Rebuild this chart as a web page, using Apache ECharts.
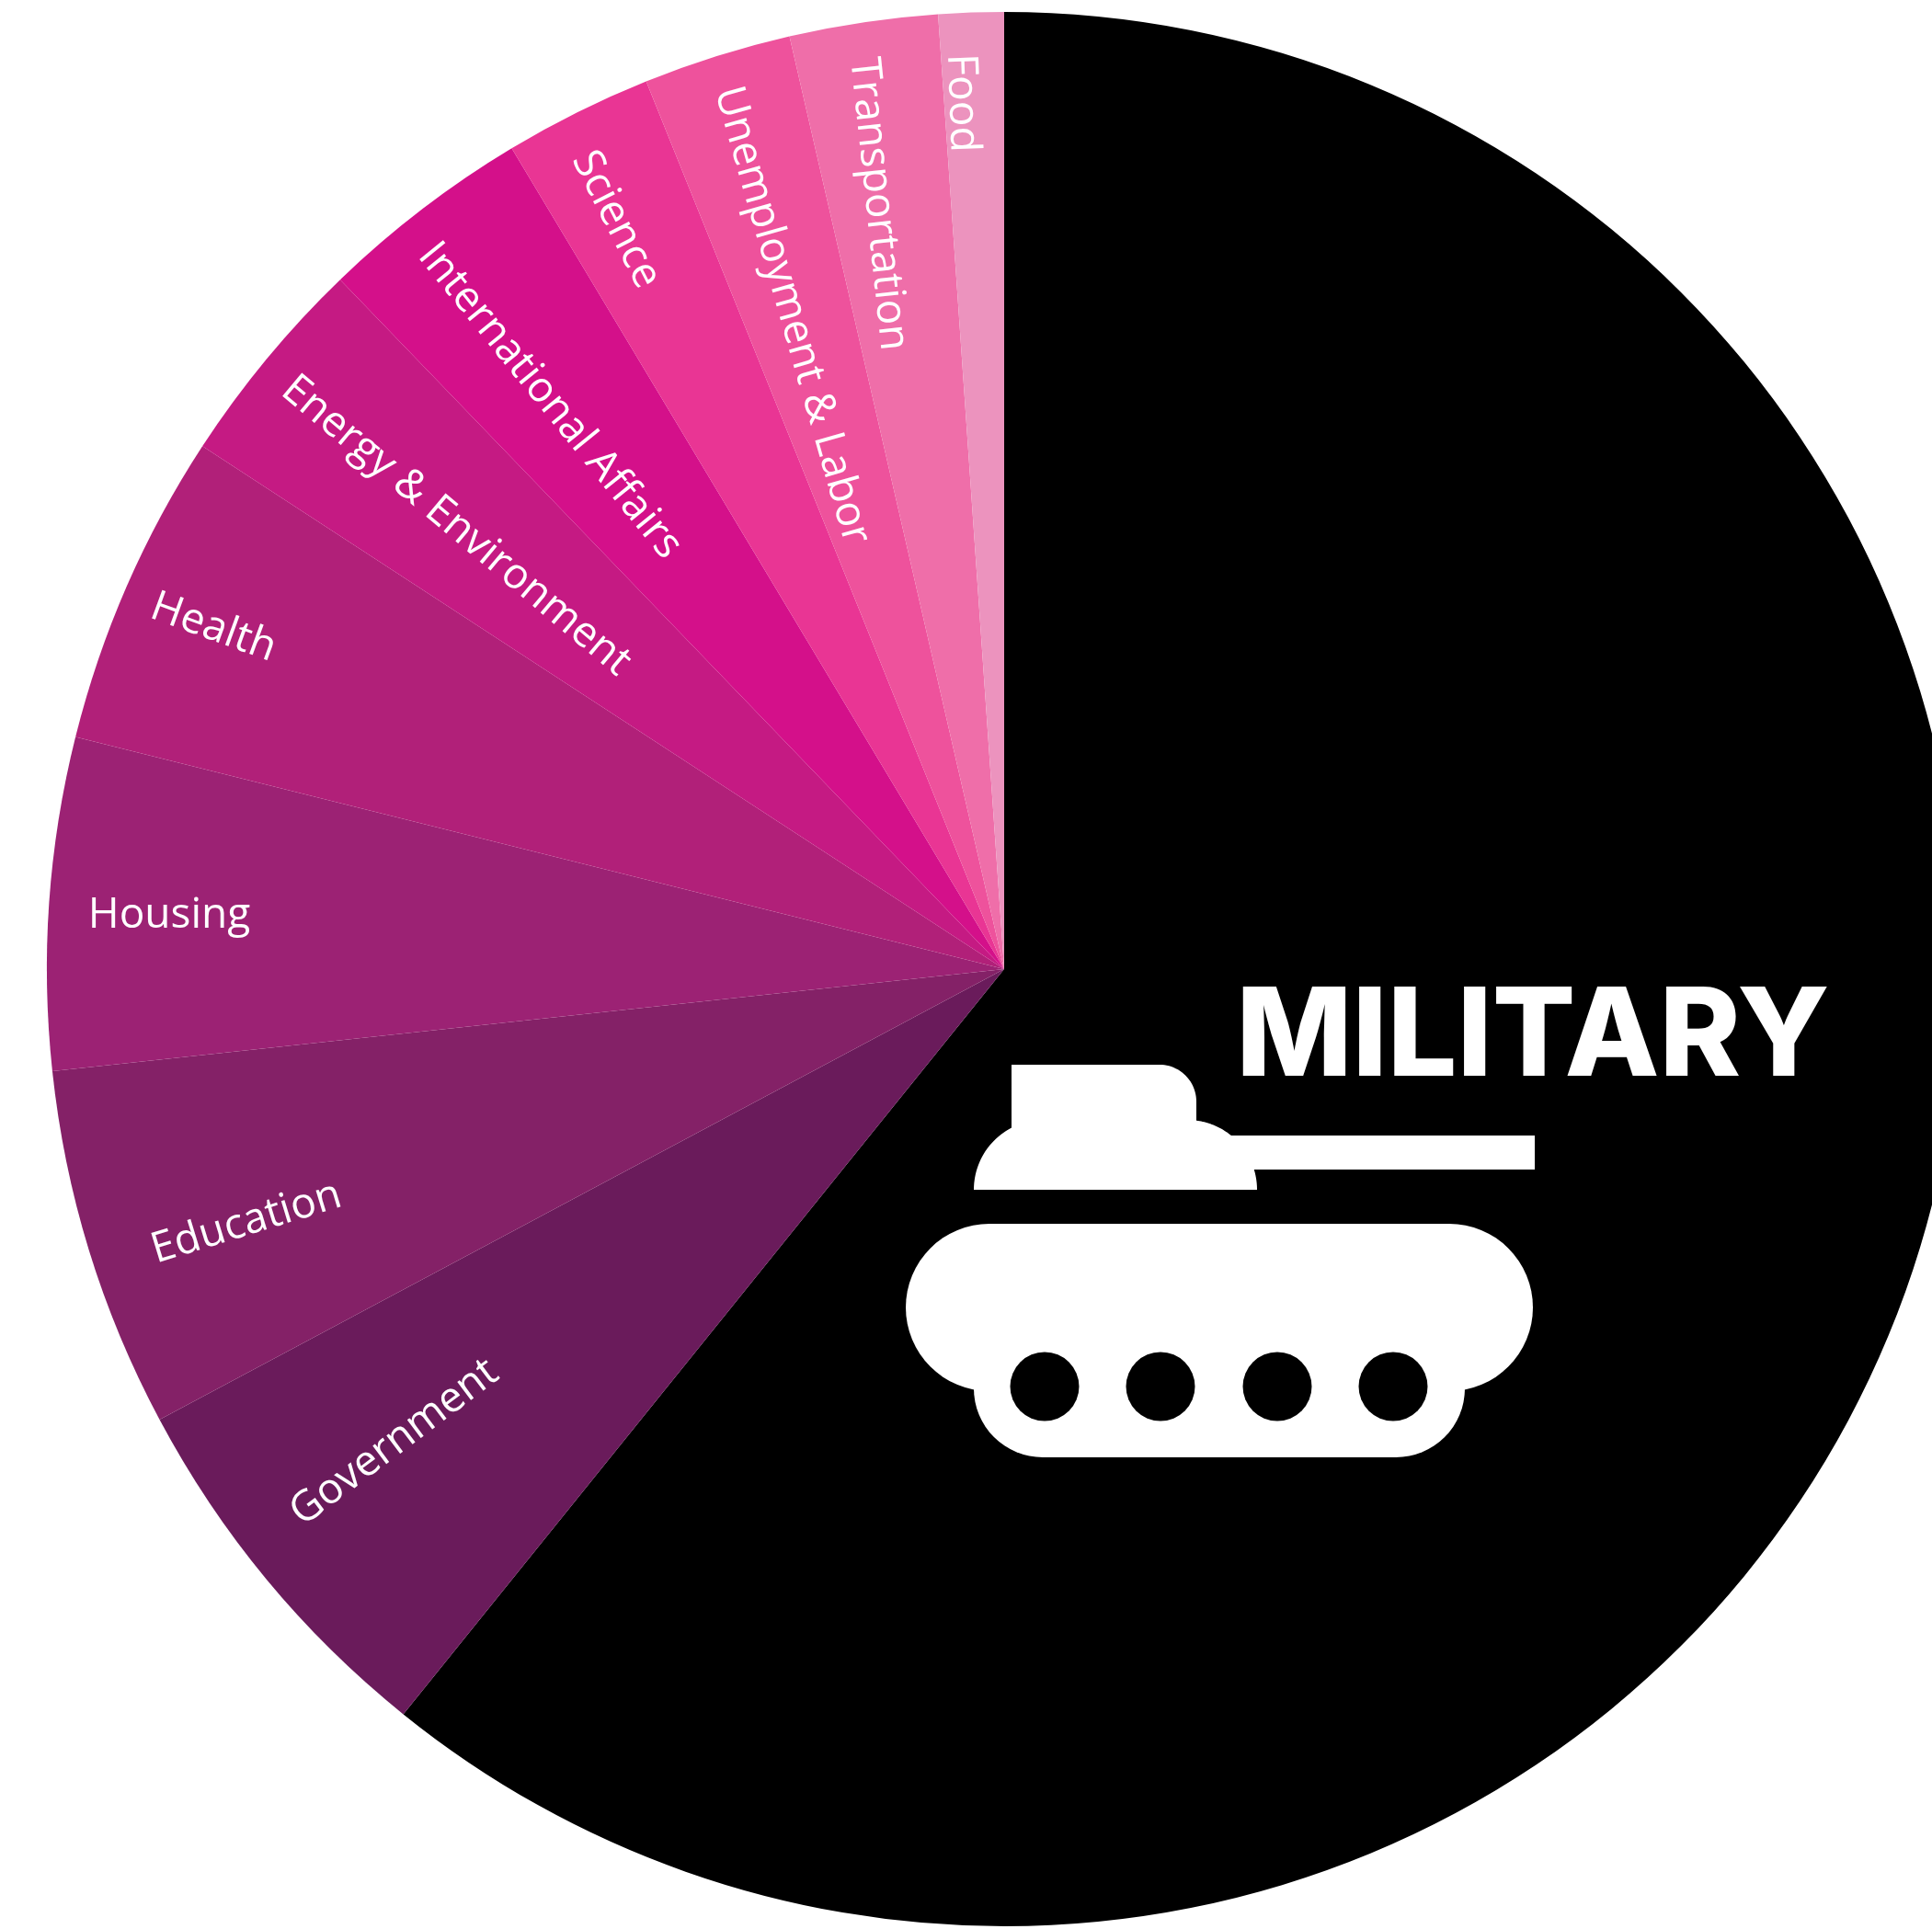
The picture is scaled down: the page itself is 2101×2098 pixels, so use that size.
<!DOCTYPE html>
<html><head><meta charset="utf-8">
<style>html,body{margin:0;padding:0;background:#fff}#c{width:2101px;height:2098px}</style>
<script src="https://cdn.jsdelivr.net/npm/echarts@6/dist/echarts.min.js"></script>
</head><body><div id="c"></div>
<script>
const categories=['MILITARY','Government','Education','Housing','Health','Energy & Environment','International Affairs','Science','Unemployment & Labor','Transportation','Food'];
const shares=[60.8,6.4,6.1,5.6,5.3,3.6,3.6,2.5,2.5,2.5,1.1];
const colors=['#000000','#6A1B5B','#842167','#9C2274','#B12079','#C51A83','#D4108A','#E93594','#EE529C','#EF6EA9','#EC93BE'];
const labelX=[1667,429,268,184,232,496,598,670,861,955,1046];
const labelY=[1130,1569,1330,996,683,572,436,239,343,222,112];
const labelRotate=[0,37,17,0,-20,-40,-51,-63,-74,-84,-88];
const chart=echarts.init(document.getElementById('c'),null,{renderer:'canvas'});
const white={fill:'#fff'};
// turret outline: straight runs plus circular arcs, flattened for a polygon element
function arc(cx,cy,r,from,to){
  const pts=[];
  for(let t=0;t<=24;t++){const a=(from+(to-from)*t/24)*Math.PI/180;pts.push([cx+r*Math.cos(a),cy+r*Math.sin(a)]);}
  return pts;
}
const turret=[[1100,1158],...arc(1261,1198,40,-90,0),[1301,1218],...arc(1291,1294,76,-82.4,-50.9),[1669,1235],[1669,1272],...arc(1291,1294,76,-16.8,0),...arc(1135,1294,76,180,242.6)];
const wheels=[1136,1262,1389,1515].map(cx=>({type:'circle',z:101,shape:{cx,cy:1508,r:37.5},style:{fill:'#000'}}));
chart.setOption({
  animation:false,backgroundColor:'#fff',
  series:[{type:'pie',center:[1092,1054],radius:[0,1041],startAngle:90,clockwise:true,
    avoidLabelOverlap:false,silent:true,minShowLabelAngle:0,
    itemStyle:{borderWidth:0},labelLine:{show:false},
    label:{show:true,position:'inside',color:'#fff',fontFamily:'Open Sans',fontSize:46,align:'center',verticalAlign:'middle',formatter:'{b}'},
    labelLayout:p=>({x:labelX[p.dataIndex],y:labelY[p.dataIndex],rotate:labelRotate[p.dataIndex],align:'center',verticalAlign:'middle'}),
    data:categories.map((name,i)=>({name,value:shares[i],itemStyle:{color:colors[i]},
      label:i===0?{fontFamily:'Inter',fontWeight:800,fontSize:134}:{}}))
  }],
  graphic:[
    {type:'polygon',z:100,shape:{points:turret},style:white},
    {type:'rect',z:100,shape:{x:985,y:1331,width:682,height:182,r:91},style:white},
    {type:'rect',z:100,shape:{x:1059,y:1400,width:534,height:185,r:75},style:white},
    ...wheels
  ]
});
</script></body></html>
